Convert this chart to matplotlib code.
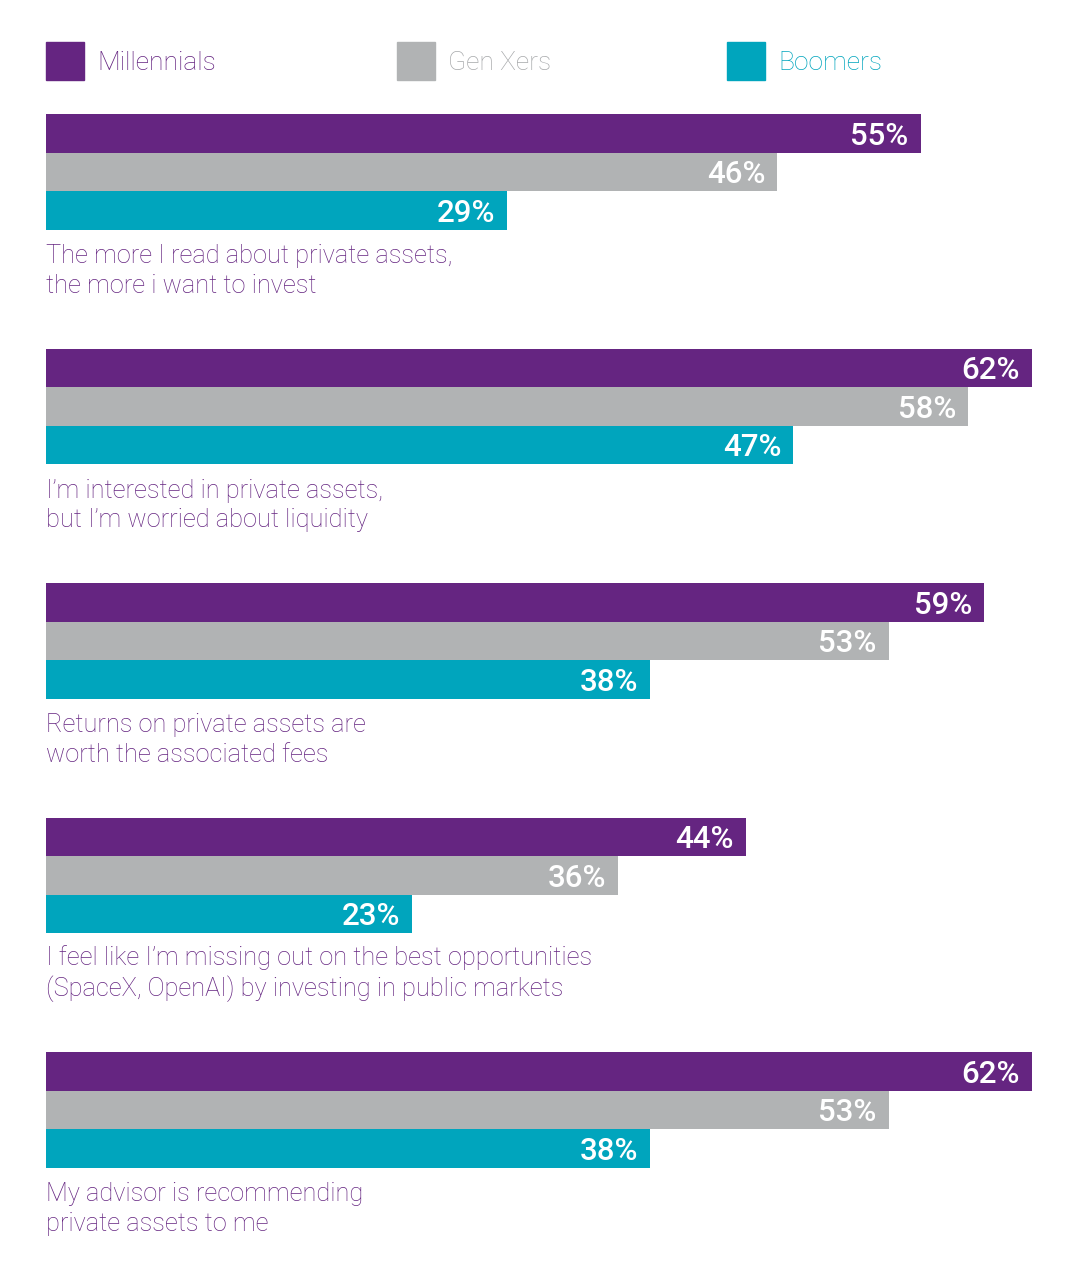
import matplotlib.pyplot as plt
from matplotlib.patches import Rectangle

plt.rcParams['font.family'] = ['Roboto', 'DejaVu Sans']

# data
statements = [
    "The more I read about private assets,\nthe more i want to invest",
    "I\u2019m interested in private assets,\nbut I\u2019m worried about liquidity",
    "Returns on private assets are\nworth the associated fees",
    "I feel like I\u2019m missing out on the best opportunities\n(SpaceX, OpenAI) by investing in public markets",
    "My advisor is recommending\nprivate assets to me",
]
generations = ["Millennials", "Gen Xers", "Boomers"]
millennials = [55, 62, 59, 44, 62]
gen_xers = [46, 58, 53, 36, 53]
boomers = [29, 47, 38, 23, 38]

colors = ["#652581", "#b1b3b4", "#00a5bd"]
text_colors = ["#652581", "#a7a9ab", "#00a5bd"]

W, H = 1079, 1280
fig = plt.figure(figsize=(W / 100, H / 100), dpi=100)
x0 = 46
px_per_pct = 15.9
ax = fig.add_axes([x0 / W, 0, (W - x0) / W, 1])
ax.set_xlim(0, (W - x0) / px_per_pct)
ax.set_ylim(H, 0)
ax.axis('off')

group_top = 114
group_step = 234.5
bar_h = 38.5

series = [millennials, gen_xers, boomers]
for i, label in enumerate(statements):
    top = group_top + i * group_step
    for j, vals in enumerate(series):
        yc = top + bar_h / 2 + j * bar_h
        v = vals[i]
        ax.barh(yc, v, height=bar_h, color=colors[j], edgecolor='none')
        ax.text(v - 0.75, yc + 3, f"{v}%", color='white', fontsize=22.5,
                fontweight='medium', ha='right', va='center')
    ax.text(0, top + 179, label, color="#652581", fontsize=18.3,
            fontweight='light', ha='left', va='baseline', linespacing=1.3)

# legend
leg_x = [46, 397, 727]
for j, g in enumerate(generations):
    fig.patches.append(Rectangle((leg_x[j] / W, 1 - 80 / H), 38 / W, 38 / H,
                                 transform=fig.transFigure, color=colors[j]))
    fig.text((leg_x[j] + 51) / W, 1 - 63 / H, g, color=text_colors[j],
             fontsize=19, fontweight='light', ha='left', va='center')

fig.savefig("out.png", dpi=100)
